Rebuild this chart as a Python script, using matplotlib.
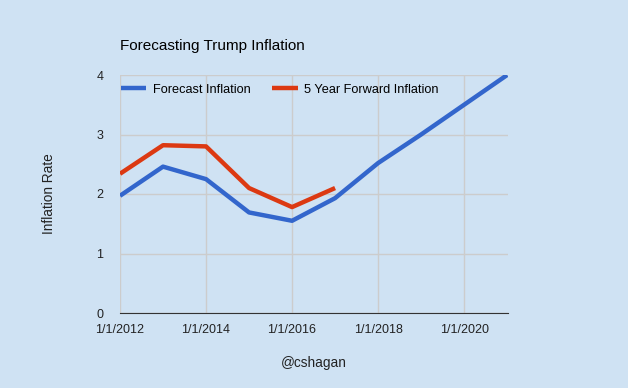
import matplotlib
matplotlib.use("Agg")
import matplotlib.pyplot as plt

plt.rcParams['font.family'] = ['Liberation Sans', 'DejaVu Sans']

years = [2012, 2013, 2014, 2015, 2016, 2017, 2018, 2019, 2020, 2021]
forecast = [1.97, 2.46, 2.25, 1.69, 1.55, 1.93, 2.52, 3.0, 3.5, 4.0]
fwd_years = [2012, 2013, 2014, 2015, 2016, 2017]
forward = [2.34, 2.82, 2.80, 2.10, 1.78, 2.10]
tick_years = [2012, 2014, 2016, 2018, 2020]
tick_labels = ["1/1/2012", "1/1/2014", "1/1/2016", "1/1/2018", "1/1/2020"]

bg = "#cfe2f3"
fig = plt.figure(figsize=(6.28, 3.88), dpi=100, facecolor=bg)
ax = fig.add_axes([120/628, 1 - 313/388, 388/628, 238/388])
ax.set_facecolor(bg)

ax.plot(years, forecast, color="#3366cc", lw=3.2, label="Forecast Inflation",
        solid_capstyle="butt", solid_joinstyle="round")
ax.plot(fwd_years, forward, color="#dc3912", lw=3.2, label="5 Year Forward Inflation",
        solid_capstyle="butt", solid_joinstyle="round")

ax.set_xlim(2012, 2021.02)
ax.set_ylim(0, 4)
ax.set_yticks([0, 1, 2, 3, 4])
ax.set_xticks(tick_years)
ax.set_xticklabels(tick_labels)
ax.grid(True, color="#cccccc", lw=1)
ax.set_axisbelow(True)
for s in ["top", "right", "left"]:
    ax.spines[s].set_visible(False)
ax.spines["bottom"].set_color("#333333")
ax.tick_params(length=0, labelsize=9, colors="#222222")
ax.tick_params(axis="x", pad=8)
ax.tick_params(axis="y", pad=12)

ax.set_ylabel("Inflation Rate", fontsize=9.8, color="#222222", labelpad=29)
ax.set_xlabel("@cshagan", fontsize=9.8, color="#222222", labelpad=14)
fig.text(120/628, 1 - 46/388, "Forecasting Trump Inflation", fontsize=11,
         color="#000000", va="center", ha="left")

leg = ax.legend(loc="upper left", ncol=2, frameon=False, fontsize=9.2,
                bbox_to_anchor=(-0.028, 1.012), handlelength=2.0,
                handletextpad=0.5, columnspacing=1.7)

fig.savefig("out.png", dpi=100, facecolor=bg)
